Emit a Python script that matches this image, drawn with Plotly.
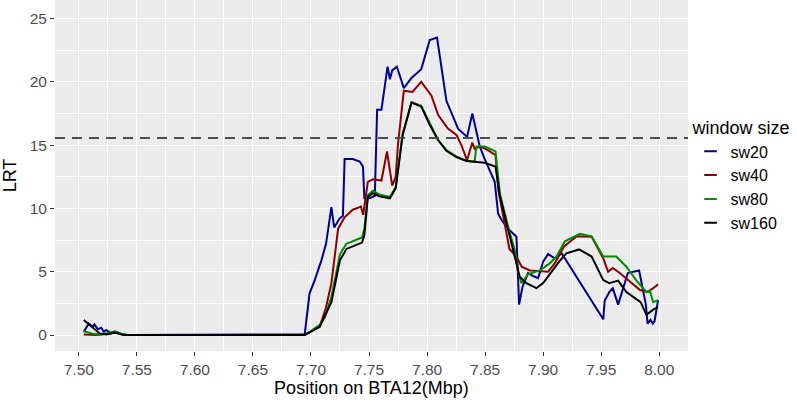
import plotly.graph_objects as go

# ---- data ----
series_names = ["sw20", "sw40", "sw80", "sw160"]
series_colors = ["#00008B", "#8B0000", "#008B00", "#000000"]
threshold = 15.57

sw20_pos = [7.5043, 7.5086, 7.512, 7.5135, 7.5164, 7.5193, 7.5216, 7.5236, 7.528, 7.532,
            7.538, 7.542, 7.6946, 7.6988, 7.7031, 7.709, 7.713, 7.7176, 7.720, 7.7247,
            7.7275, 7.729, 7.736, 7.742, 7.7448, 7.746, 7.7506, 7.755, 7.757, 7.7607,
            7.766, 7.768, 7.770, 7.774, 7.780, 7.7866, 7.795, 7.8023, 7.8086, 7.8167,
            7.8267, 7.8345, 7.839, 7.8454, 7.8497, 7.8583, 7.8612, 7.864, 7.8698, 7.877,
            7.8793, 7.8822, 7.887, 7.8913, 7.8957, 7.900, 7.9043, 7.910, 7.916, 7.9518,
            7.953, 7.957, 7.960, 7.9646, 7.973, 7.9827, 7.9885, 7.990, 7.9925, 7.9945,
            7.996, 7.999]
sw20_lrt = [0.26, 0.92, 0.66, 0.84, 0.45, 0.58, 0.26, 0.40, 0.13, 0.26,
            0.05, 0.0, 0.05, 3.3, 4.3, 5.9, 7.2, 10.1, 8.5, 9.2,
            9.4, 13.9, 13.9, 13.7, 13.3, 10.8, 10.8, 11.0, 17.8, 17.8,
            21.2, 20.2, 20.9, 21.2, 19.5, 20.3, 21.0, 23.3, 23.5, 18.5,
            16.3, 15.65, 17.5, 14.9, 13.9, 12.1, 9.6, 9.1, 8.4, 7.76,
            2.4, 3.8, 4.9, 4.66, 4.5, 5.8, 6.4, 6.05, 6.45, 1.24,
            2.7, 3.4, 3.7, 2.4, 4.9, 5.1, 2.4, 0.9, 1.2, 0.9,
            1.1, 2.76]

sw40_pos = [7.5043, 7.515, 7.525, 7.530, 7.535, 7.540, 7.6946, 7.6966, 7.7075, 7.713,
            7.7176, 7.722, 7.7234, 7.729, 7.736, 7.742, 7.743, 7.745, 7.749, 7.7534,
            7.7607, 7.7655, 7.770, 7.773, 7.775, 7.780, 7.7874, 7.795, 7.8038, 7.8095,
            7.818, 7.8253, 7.8296, 7.8345, 7.839, 7.841, 7.8454, 7.8525, 7.859, 7.8615,
            7.867, 7.871, 7.877, 7.8815, 7.8885, 7.8957, 7.9043, 7.910, 7.918, 7.929,
            7.9418, 7.9518, 7.956, 7.960, 7.966, 7.9835, 7.990, 7.9948, 7.999]
sw40_lrt = [0.05, 0.0, 0.1, 0.22, 0.1, 0.0, 0.0, 0.13, 0.65, 2.2,
            4.1, 7.5, 8.4, 9.3, 9.9, 10.1, 10.15, 9.5, 12.1, 12.3,
            12.2, 14.5, 11.8, 12.5, 15.1, 19.3, 19.2, 20.0, 18.9, 17.4,
            16.3, 15.8, 15.0, 13.8, 15.2, 14.7, 14.9, 14.6, 14.2, 11.4,
            8.8, 6.8, 6.2, 5.4, 5.1, 5.07, 5.0, 5.66, 7.0, 7.8,
            7.76, 6.05, 5.0, 5.3, 4.9, 3.55, 3.4, 3.7, 4.0]

sw80_pos = [7.5043, 7.512, 7.520, 7.527, 7.531, 7.536, 7.542, 7.6946, 7.6966, 7.7075,
            7.712, 7.7176, 7.722, 7.725, 7.7305, 7.739, 7.744, 7.746, 7.749, 7.7534,
            7.759, 7.768, 7.773, 7.779, 7.7866, 7.795, 7.8023, 7.8095, 7.8167, 7.8253,
            7.834, 7.841, 7.8425, 7.8497, 7.859, 7.8627, 7.870, 7.8756, 7.8784, 7.8813,
            7.887, 7.8971, 7.9057, 7.9115, 7.9187, 7.926, 7.9318, 7.9418, 7.9518, 7.963,
            7.9717, 7.9804, 7.989, 7.992, 7.9948, 7.999]
sw80_lrt = [0.3, 0.1, 0.05, 0.2, 0.3, 0.1, 0.0, 0.0, 0.1, 0.8,
            1.4, 3.0, 5.1, 6.4, 7.2, 7.55, 7.7, 8.4, 11.05, 11.4,
            11.1, 10.9, 11.7, 15.9, 18.4, 18.1, 16.7, 15.4, 14.6, 14.1,
            13.76, 13.7, 14.9, 14.9, 14.5, 11.2, 8.5, 6.7, 5.0, 4.1,
            4.8, 5.1, 5.66, 6.2, 7.4, 7.7, 8.0, 7.8, 6.2, 6.2,
            5.4, 4.3, 3.4, 3.5, 2.6, 2.76]

sw160_pos = [7.5043, 7.518, 7.524, 7.531, 7.537, 7.542, 7.6946, 7.6966, 7.7075, 7.7176,
             7.722, 7.725, 7.7305, 7.739, 7.744, 7.746, 7.749, 7.7534, 7.759, 7.768,
             7.773, 7.779, 7.7866, 7.795, 7.8023, 7.8095, 7.8167, 7.8253, 7.834, 7.8497,
             7.859, 7.8627, 7.870, 7.874, 7.8798, 7.8856, 7.8942, 7.900, 7.907, 7.9138,
             7.92, 7.931, 7.9418, 7.9518, 7.957, 7.9646, 7.9717, 7.984, 7.989, 7.9948,
             7.999]
sw160_lrt = [1.18, 0.13, 0.05, 0.2, 0.05, 0.0, 0.0, 0.1, 0.65, 2.6,
             4.5, 5.9, 6.8, 7.15, 7.3, 7.9, 10.9, 11.2, 10.95, 10.8,
             11.6, 15.8, 18.35, 18.05, 16.6, 15.4, 14.55, 14.05, 13.75, 13.6,
             13.3, 11.0, 8.3, 6.7, 4.6, 4.1, 3.7, 4.1, 5.0, 5.8,
             6.45, 6.76, 6.2, 4.34, 4.1, 4.3, 3.4, 2.6, 1.6, 2.0,
             2.2]

x_ticks = [7.50, 7.55, 7.60, 7.65, 7.70, 7.75, 7.80, 7.85, 7.90, 7.95, 8.00]
y_ticks = [0, 5, 10, 15, 20, 25]

positions = [sw20_pos, sw40_pos, sw80_pos, sw160_pos]
values = [sw20_lrt, sw40_lrt, sw80_lrt, sw160_lrt]

FONT = "Liberation Sans, Arial, sans-serif"

fig = go.Figure()
for name, color, xs, ys in zip(series_names, series_colors, positions, values):
    fig.add_trace(go.Scatter(
        x=xs, y=ys, mode="lines", name=name, legendgroup=name, showlegend=False,
        line=dict(color=color, width=2), hoverinfo="skip"))
# legend keys (short horizontal strokes like ggplot's legend)
for name, color in zip(series_names, series_colors):
    fig.add_trace(go.Scatter(
        x=[None], y=[None], mode="markers", name=name, legendgroup=name,
        marker=dict(symbol="line-ew", size=9, color=color,
                    line=dict(color=color, width=2))))

fig.add_hline(y=threshold, line=dict(color="#4D4D4D", width=2, dash="10px,7px"), layer="above")

fig.update_layout(
    template="none",
    width=797, height=406,
    margin=dict(l=55, r=109, t=0, b=55, autoexpand=False),
    paper_bgcolor="white", plot_bgcolor="#EBEBEB",
    font=dict(family=FONT, color="black"),
    showlegend=True,
    legend=dict(
        title=dict(text="window size", font=dict(size=18, color="black")),
        font=dict(size=16, color="black"),
        x=1.004, xanchor="left", y=0.5, yanchor="middle",
        bgcolor="rgba(0,0,0,0)", borderwidth=0, itemwidth=30, tracegroupgap=0,
    ),
    xaxis=dict(
        automargin=False,
        range=[7.4795, 8.0248], tickvals=x_ticks, tickformat=".2f",
        showgrid=True, gridcolor="white", gridwidth=1.1,
        minor=dict(dtick=0.025, tick0=7.475, showgrid=True, gridcolor="white", gridwidth=0.55),
        ticks="outside", ticklen=4, tickwidth=1, tickcolor="#333333",
        tickfont=dict(size=15.5, color="#4D4D4D", family=FONT),
        zeroline=False, showline=False,
        title=dict(text="Position on BTA12(Mbp)", font=dict(size=18, color="black"), standoff=4),
    ),
    yaxis=dict(
        automargin=False,
        range=[-1.26, 26.46], tickvals=y_ticks,
        showgrid=True, gridcolor="white", gridwidth=1.1,
        minor=dict(dtick=2.5, tick0=0, showgrid=True, gridcolor="white", gridwidth=0.55),
        ticks="outside", ticklen=4, tickwidth=1, tickcolor="#333333",
        tickfont=dict(size=15.5, color="#4D4D4D", family=FONT),
        zeroline=False, showline=False,
        title=dict(text="LRT", font=dict(size=18, color="black"), standoff=8),
    ),
)

fig.write_html("out.html", config={"displayModeBar": False},
               post_script="document.body.style.margin='0';document.body.style.overflow='hidden';")
